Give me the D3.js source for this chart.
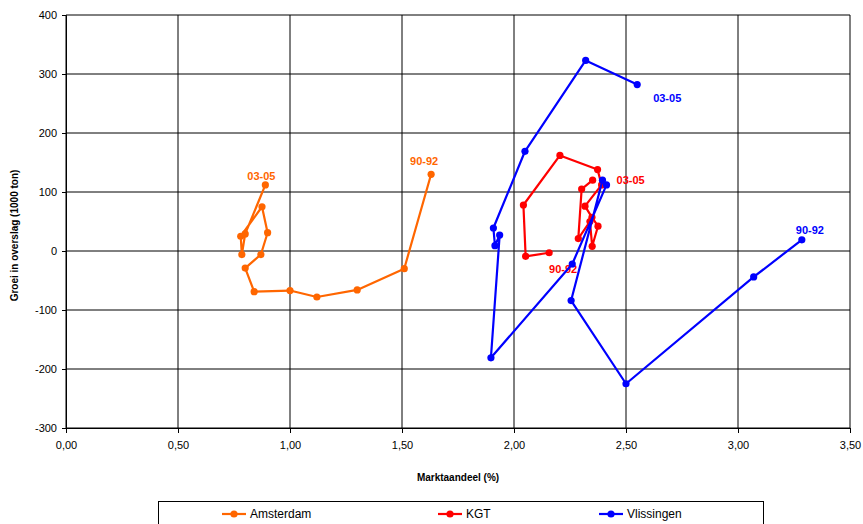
<!DOCTYPE html>
<html>
<head>
<meta charset="utf-8">
<script src="https://cdn.jsdelivr.net/npm/d3@7"></script>
<style>
  html, body { margin: 0; padding: 0; background: #fff; }
  svg { display: block; font-family: "Liberation Sans", Arial, sans-serif; }
</style>
</head>
<body>
<svg id="chart" width="863" height="524"></svg>
<script>
// Three-year moving averages, 90-92 through 03-05
const periods = ["90-92","91-93","92-94","93-95","94-96","95-97","96-98","97-99","98-00","99-01","00-02","01-03","02-04","03-05"];

const amsterdamShare  = [1.63, 1.51, 1.30, 1.12, 1.00, 0.84, 0.80, 0.87, 0.90, 0.875, 0.78, 0.785, 0.80, 0.89];
const amsterdamGrowth = [130, -30, -66, -78, -67, -69, -29, -6, 31, 75, 25, -6, 29, 112];

const kgtShare  = [2.157, 2.052, 2.042, 2.205, 2.373, 2.391, 2.317, 2.348, 2.375, 2.349, 2.339, 2.287, 2.302, 2.351];
const kgtGrowth = [-3, -9, 78, 162, 138, 112, 76, 57, 42, 8, 50, 21, 105, 120];

const vlissingenShare  = [3.285, 3.07, 2.50, 2.255, 2.395, 2.413, 2.26, 1.897, 1.936, 1.915, 1.908, 2.049, 2.32, 2.55];
const vlissingenGrowth = [19, -44, -225, -84, 120, 112, -22, -181, 27, 9, 39, 169, 323, 282];

const xTicks = [0, 0.5, 1.0, 1.5, 2.0, 2.5, 3.0, 3.5];
const yTicks = [-300, -200, -100, 0, 100, 200, 300, 400];

const series = [
  { name: "Amsterdam",  color: "#FF6600", x: amsterdamShare,  y: amsterdamGrowth,
    startOff: [-7, -13], endOff: [-4, -9] },
  { name: "KGT",        color: "#FF0000", x: kgtShare,        y: kgtGrowth,
    startOff: [14, 16],  endOff: [38, 0] },
  { name: "Vlissingen", color: "#0000FF", x: vlissingenShare, y: vlissingenGrowth,
    startOff: [8, -10],  endOff: [30, 14] }
];

const svg = d3.select("#chart");
const margin = { left: 66, right: 13, top: 15, bottom: 96 };
const W = 863, H = 524;

const x = d3.scaleLinear().domain([0, 3.5]).range([margin.left, W - margin.right]);
const y = d3.scaleLinear().domain([-300, 400]).range([H - margin.bottom, margin.top]);

const fmtX = v => d3.format(".2f")(v).replace(".", ",");
const fmtY = v => String(v);

// Grid
const grid = svg.append("g");
grid.selectAll("line.h").data(yTicks).join("line")
  .attr("x1", x(0)).attr("x2", x(3.5))
  .attr("y1", d => y(d)).attr("y2", d => y(d))
  .attr("stroke", "#000").attr("stroke-width", 1);
grid.selectAll("line.v").data(xTicks).join("line")
  .attr("y1", y(-300)).attr("y2", y(400))
  .attr("x1", d => x(d)).attr("x2", d => x(d))
  .attr("stroke", "#000").attr("stroke-width", 1);

// Axes
const xAxis = svg.append("g")
  .attr("transform", `translate(0,${y(-300)})`)
  .call(d3.axisBottom(x).tickValues(xTicks).tickFormat(fmtX).tickSize(5).tickPadding(8));
const yAxis = svg.append("g")
  .attr("transform", `translate(${x(0)},0)`)
  .call(d3.axisLeft(y).tickValues(yTicks).tickFormat(fmtY).tickSize(4).tickPadding(5));
[xAxis, yAxis].forEach(a => {
  a.select(".domain").attr("stroke", "#000");
  a.selectAll(".tick line").attr("stroke", "#000");
  a.selectAll(".tick text").attr("font-size", 11).attr("fill", "#000")
    .attr("font-family", "'Liberation Sans', Arial, sans-serif");
});

// Axis titles
svg.append("text")
  .attr("x", (x(0) + x(3.5)) / 2).attr("y", 481)
  .attr("text-anchor", "middle").attr("font-size", 10).attr("font-weight", "bold")
  .text("Marktaandeel (%)");
svg.append("text")
  .attr("transform", `translate(18,${(y(400) + y(-300)) / 2 + 14}) rotate(-90)`)
  .attr("text-anchor", "middle").attr("font-size", 10).attr("font-weight", "bold")
  .text("Groei in overslag (1000 ton)");

// Series
const line = d3.line().x(d => x(d[0])).y(d => y(d[1]));
series.forEach(s => {
  const pts = s.x.map((v, i) => [v, s.y[i]]);
  const g = svg.append("g");
  g.append("path").datum(pts).attr("d", line)
    .attr("fill", "none").attr("stroke", s.color).attr("stroke-width", 2.2)
    .attr("stroke-linejoin", "round");
  g.selectAll("circle").data(pts).join("circle")
    .attr("cx", d => x(d[0])).attr("cy", d => y(d[1])).attr("r", 3.6)
    .attr("fill", s.color);

  // Period labels at both ends of the path
  const first = pts[0], last = pts[pts.length - 1];
  [[first, periods[0], s.startOff], [last, periods[periods.length - 1], s.endOff]].forEach(([p, t, off]) => {
    g.append("text")
      .attr("x", x(p[0]) + off[0]).attr("y", y(p[1]) + off[1])
      .attr("text-anchor", "middle").attr("font-size", 11).attr("font-weight", "bold")
      .attr("fill", s.color).attr("dy", "0.35em")
      .text(t);
  });
});

// Legend
const legend = svg.append("g");
legend.append("rect")
  .attr("x", 158.5).attr("y", 501.5).attr("width", 605).attr("height", 30)
  .attr("fill", "#fff").attr("stroke", "#000").attr("stroke-width", 1);
const legendX = [222, 438, 599];
series.forEach((s, i) => {
  const lg = legend.append("g").attr("transform", `translate(${legendX[i]},514)`);
  lg.append("line").attr("x1", 0).attr("x2", 24).attr("y1", 0).attr("y2", 0)
    .attr("stroke", s.color).attr("stroke-width", 2.2);
  lg.append("circle").attr("cx", 12).attr("cy", 0).attr("r", 3.6).attr("fill", s.color);
  lg.append("text").attr("x", 28).attr("y", 0).attr("dy", "0.35em")
    .attr("font-size", 12).attr("fill", "#000").text(s.name);
});
</script>
</body>
</html>
